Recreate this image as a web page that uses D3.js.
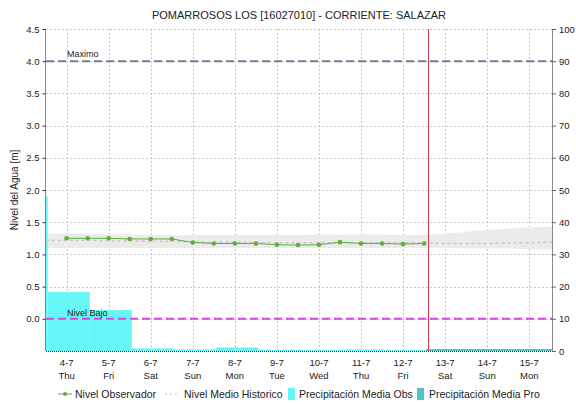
<!DOCTYPE html>
<html><head><meta charset="utf-8">
<script src="https://cdn.jsdelivr.net/npm/d3@7"></script>
<style>
body{margin:0;background:#fff;}
text{font-family:"Liberation Sans",Arial,sans-serif;}
</style></head>
<body>
<svg id="c" width="576" height="404"></svg>
<script>
// ---- data ----
const title = "POMARROSOS LOS [16027010] - CORRIENTE: SALAZAR";
const dayLabels = ["4-7","5-7","6-7","7-7","8-7","9-7","10-7","11-7","12-7","13-7","14-7","15-7"];
const weekLabels = ["Thu","Fri","Sat","Sun","Mon","Tue","Wed","Thu","Fri","Sat","Sun","Mon"];
// observed level, every 12 h starting 4-7 00:00
const obsLevel = [1.25,1.25,1.25,1.24,1.24,1.24,1.185,1.17,1.17,1.17,1.15,1.145,1.15,1.19,1.17,1.17,1.16,1.17];
// historical (every 12 h starting 3-7 12:00)
const histMedian = [1.22,1.22,1.22,1.21,1.21,1.20,1.20,1.19,1.19,1.19,1.18,1.18,1.18,1.18,1.18,1.18,1.18,1.18,1.18,1.17,1.17,1.17,1.18,1.18,1.19,1.19];
const histLow    = [1.10,1.10,1.10,1.10,1.10,1.10,1.10,1.10,1.10,1.10,1.10,1.10,1.10,1.10,1.10,1.10,1.10,1.10,1.10,1.10,1.09,1.09,1.09,1.08,1.08,1.08];
const histHigh   = [1.32,1.32,1.32,1.31,1.31,1.31,1.30,1.30,1.30,1.30,1.30,1.30,1.30,1.31,1.31,1.31,1.31,1.30,1.30,1.32,1.35,1.38,1.40,1.42,1.43,1.44];
// daily precipitation (right axis)
const precipObs = [48,18.3,12.7,0.8,0.5,1.1,0.4,0.3,0.5,0.3];
const precipPro = [0.6,0.6,0.6];
const levelMax = 4.0, levelLow = 0.0;
const nowDay = 8.59;
const leftTicks = [0,0.5,1,1.5,2,2.5,3,3.5,4,4.5];
const rightTicks = [0,10,20,30,40,50,60,70,80,90,100];

// ---- layout ----
const svg = d3.select("#c");
const L = 46, R = 552, T = 29, B = 351;
const x = d3.scaleLinear().domain([-0.49, 11.54]).range([L, R]);
const y = d3.scaleLinear().domain([-0.5, 4.5]).range([B, T]);
const y2 = d3.scaleLinear().domain([0, 100]).range([B, T]);

svg.append("defs").append("clipPath").attr("id","clip")
  .append("rect").attr("x",L).attr("y",T).attr("width",R-L).attr("height",B-T);

svg.append("text").attr("x",(L+R)/2).attr("y",19).attr("text-anchor","middle")
  .attr("font-size",11).attr("fill","#222").text(title);

const gridC = "#c8c8c8";
svg.append("g").selectAll("line").data(leftTicks).join("line")
  .attr("x1",L).attr("x2",R).attr("y1",d=>Math.round(y(d))+0.5).attr("y2",d=>Math.round(y(d))+0.5)
  .attr("stroke",gridC).attr("stroke-dasharray","2,2");
svg.append("g").selectAll("line").data(dayLabels).join("line")
  .attr("x1",(d,i)=>Math.round(x(i))+0.5).attr("x2",(d,i)=>Math.round(x(i))+0.5).attr("y1",T).attr("y2",B)
  .attr("stroke",gridC).attr("stroke-dasharray","2,2");

const plot = svg.append("g").attr("clip-path","url(#clip)");
const ht = i => -0.5 + 0.5*i;
plot.append("path").datum(histMedian)
  .attr("d", d3.area().x((d,i)=>x(ht(i))).y0((d,i)=>y(histLow[i])).y1((d,i)=>y(histHigh[i])))
  .attr("fill","#ebebeb");

const b0 = -1.45;
plot.append("g").selectAll("rect").data(precipObs).join("rect")
  .attr("x",(d,i)=>x(b0+i)).attr("width",(d,i)=>x(b0+1+i)-x(b0+i))
  .attr("y",d=>y2(d)).attr("height",d=>B-y2(d)).attr("fill","#66f6f6");
plot.append("g").selectAll("rect").data(precipPro).join("rect")
  .attr("x",(d,i)=>x(b0+precipObs.length+i)).attr("width",(d,i)=>x(b0+1+precipObs.length+i)-x(b0+precipObs.length+i))
  .attr("y",d=>y2(d)).attr("height",d=>B-y2(d)).attr("fill","#4cc4c8");

plot.append("path").datum(histMedian)
  .attr("d", d3.line().x((d,i)=>x(ht(i))).y(d=>y(d)))
  .attr("fill","none").attr("stroke","#c8c8c8").attr("stroke-width",1.5).attr("stroke-dasharray","3,3");

const green = "#5fae3a";
plot.append("path").datum(obsLevel)
  .attr("d", d3.line().x((d,i)=>x(0.5*i)).y(d=>y(d)))
  .attr("fill","none").attr("stroke",green).attr("stroke-width",1);
plot.append("g").selectAll("circle").data(obsLevel).join("circle")
  .attr("cx",(d,i)=>x(0.5*i)).attr("cy",d=>y(d)).attr("r",2.3).attr("fill",green);

svg.append("line").attr("x1",L).attr("x2",R).attr("y1",y(levelMax)).attr("y2",y(levelMax))
  .attr("stroke","#6f7f90").attr("stroke-width",2).attr("stroke-dasharray","8,4");
svg.append("text").attr("x",67).attr("y",y(levelMax)-4).attr("font-size",9).attr("fill","#222").text("Maximo");
svg.append("line").attr("x1",L).attr("x2",R).attr("y1",y(levelLow)).attr("y2",y(levelLow))
  .attr("stroke","#e040e0").attr("stroke-width",2).attr("stroke-dasharray","8,4");
svg.append("text").attr("x",67).attr("y",y(levelLow)-3).attr("font-size",9).attr("fill","#222").text("Nivel Bajo");

svg.append("line").attr("x1",Math.round(x(nowDay))+0.5).attr("x2",Math.round(x(nowDay))+0.5).attr("y1",T).attr("y2",B)
  .attr("stroke","#cc3c50").attr("stroke-width",1);

const axC = "#888";
svg.append("line").attr("x1",L-0.5).attr("x2",L-0.5).attr("y1",T).attr("y2",B).attr("stroke",axC);
svg.append("line").attr("x1",R+0.5).attr("x2",R+0.5).attr("y1",T).attr("y2",B).attr("stroke",axC);
svg.append("line").attr("x1",L).attr("x2",R).attr("y1",B+0.5).attr("y2",B+0.5).attr("stroke","#333").attr("stroke-dasharray","1,1");

const la = svg.append("g").attr("transform",`translate(${L-0.5},0)`)
  .call(d3.axisLeft(y).tickValues(leftTicks).tickFormat(d3.format(".1f")).tickSize(3).tickPadding(3));
la.select(".domain").remove();
la.selectAll("text").attr("font-size",9.5).attr("fill","#222").style("font-family","'Liberation Sans',Arial,sans-serif");
la.selectAll("line").attr("stroke","#333");

const ra = svg.append("g").attr("transform",`translate(${R},0)`)
  .call(d3.axisRight(y2).tickValues(rightTicks).tickSize(4).tickPadding(3));
ra.select(".domain").remove();
ra.selectAll("text").attr("font-size",9.5).attr("fill","#222").style("font-family","'Liberation Sans',Arial,sans-serif");
ra.selectAll("line").attr("stroke","#666");

const xa = svg.append("g");
xa.selectAll("text.d").data(dayLabels).join("text").attr("class","d")
  .attr("x",(d,i)=>x(i)).attr("y",366).attr("text-anchor","middle").attr("font-size",9.5).attr("fill","#222").text(d=>d);
xa.selectAll("text.w").data(weekLabels).join("text").attr("class","w")
  .attr("x",(d,i)=>x(i)).attr("y",379).attr("text-anchor","middle").attr("font-size",9.5).attr("fill","#222").text(d=>d);

svg.append("text").attr("transform","translate(18,190) rotate(-90)").attr("text-anchor","middle")
  .attr("font-size",10).attr("fill","#222").text("Nivel del Agua [m]");

const lg = svg.append("g");
const ly = 394;
lg.append("line").attr("x1",58).attr("x2",72).attr("y1",ly).attr("y2",ly).attr("stroke",green);
lg.append("circle").attr("cx",65).attr("cy",ly).attr("r",2).attr("fill",green);
lg.append("text").attr("x",75).attr("y",ly+4).attr("font-size",10.5).attr("fill","#222").text("Nivel Observador");
lg.append("line").attr("x1",165).attr("x2",180).attr("y1",ly).attr("y2",ly).attr("stroke","#c0c0c0").attr("stroke-dasharray","2,3");
lg.append("text").attr("x",184).attr("y",ly+4).attr("font-size",10.5).attr("fill","#222").text("Nivel Medio Historico");
lg.append("rect").attr("x",288).attr("y",ly-6).attr("width",7).attr("height",12).attr("fill","#66f6f6");
lg.append("text").attr("x",299).attr("y",ly+4).attr("font-size",10.5).attr("fill","#222").text("Precipitación Media Obs");
lg.append("rect").attr("x",417).attr("y",ly-6).attr("width",7).attr("height",12).attr("fill","#4cc4c8");
lg.append("text").attr("x",429).attr("y",ly+4).attr("font-size",10.5).attr("fill","#222").text("Precipitación Media Pro");
</script>
</body></html>
